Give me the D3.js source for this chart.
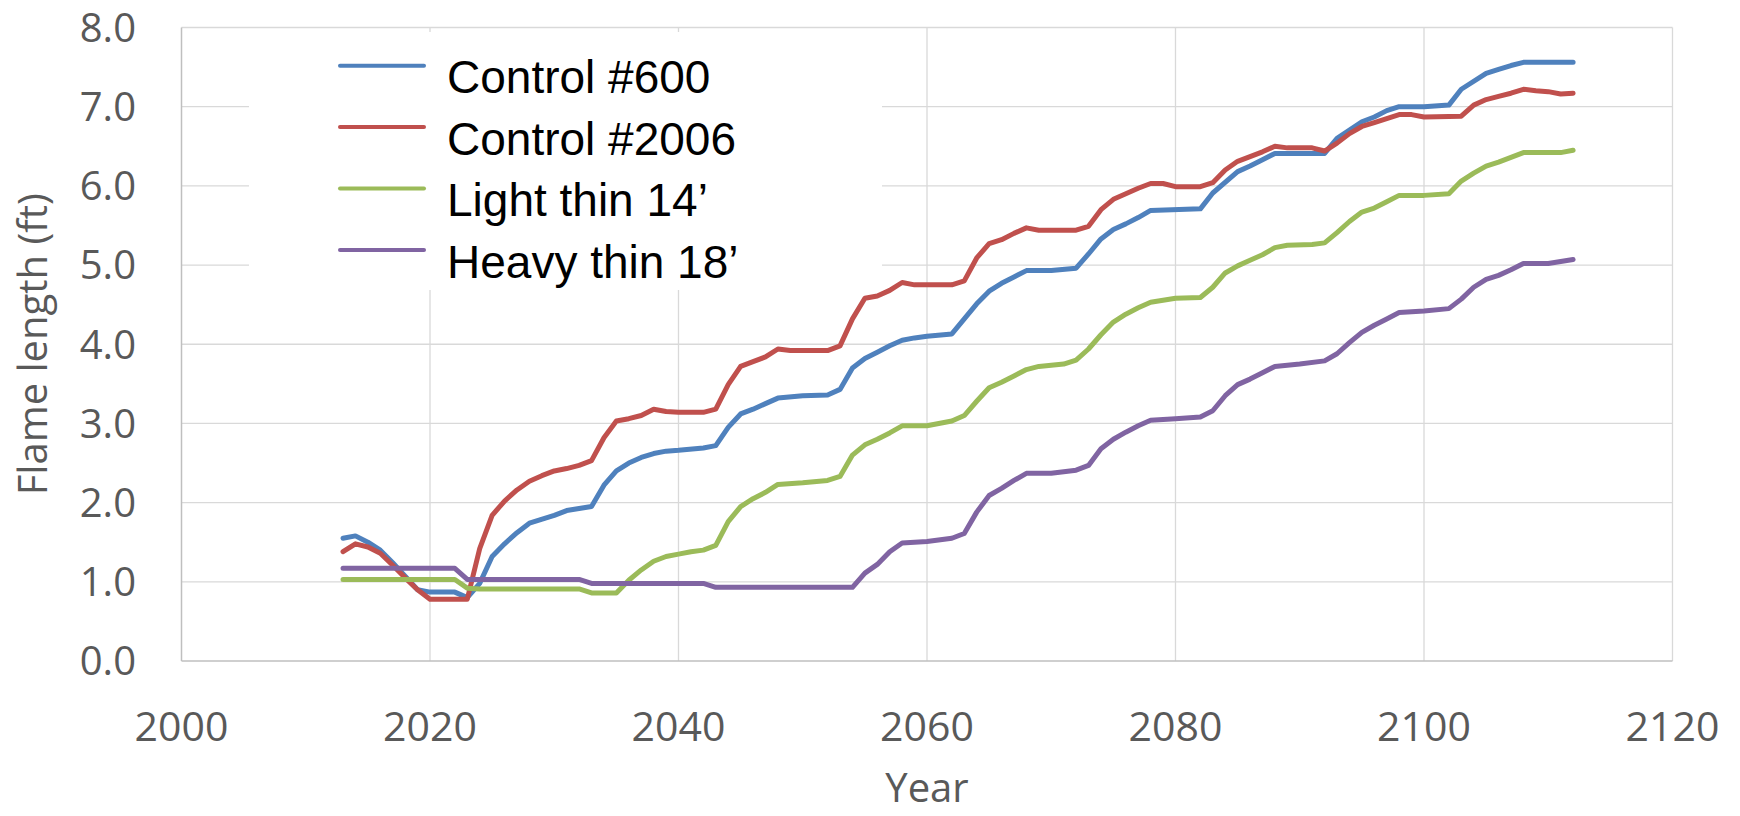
<!DOCTYPE html>
<html lang="en">
<head>
    <meta charset="UTF-8">
    <title>Flame length by year</title>
    <script src="https://d3js.org/d3.v7.min.js"></script>
</head>
<style>
    body { margin: 0; background: white; }
</style>
<body>
    <svg id="chart"></svg>

    <script>
    //Data ([year, flame length ft])
        const control600 = [
            [2013,1.55],[2014,1.58],[2015,1.50],[2016,1.40],[2017,1.24],[2018,1.07],[2019,0.90],[2020,0.87],
            [2022,0.87],[2023,0.80],[2024,0.98],[2025,1.32],[2026,1.48],[2027,1.62],[2028,1.74],[2030,1.84],
            [2031,1.90],[2033,1.95],[2034,2.22],[2035,2.40],[2036,2.50],[2037,2.57],[2038,2.62],[2039,2.65],
            [2040,2.66],[2042,2.69],[2043,2.72],[2044,2.95],[2045,3.12],[2046,3.18],[2047,3.25],[2048,3.32],
            [2050,3.35],[2052,3.36],[2053,3.43],[2054,3.70],[2055,3.82],[2056,3.90],[2057,3.98],[2058,4.05],
            [2059,4.08],[2060,4.10],[2062,4.13],[2063,4.32],[2064,4.51],[2065,4.67],[2066,4.77],[2067,4.85],
            [2068,4.93],[2070,4.93],[2072,4.96],[2073,5.14],[2074,5.33],[2075,5.45],[2076,5.52],[2077,5.60],
            [2078,5.69],[2082,5.71],[2083,5.91],[2085,6.18],[2086,6.25],[2087,6.33],[2088,6.41],[2092,6.41],
            [2093,6.60],[2095,6.81],[2096,6.87],[2097,6.95],[2098,7.00],[2100,7.00],[2102,7.02],[2103,7.22],
            [2105,7.42],[2106,7.47],[2107,7.52],[2108,7.56],[2112,7.56]
        ];
        const control2006 = [
            [2013,1.38],[2014,1.48],[2015,1.44],[2016,1.36],[2017,1.21],[2018,1.05],[2019,0.90],[2020,0.78],
            [2023,0.78],[2024,1.42],[2025,1.84],[2026,2.02],[2027,2.16],[2028,2.27],[2029,2.34],[2030,2.40],
            [2031,2.43],[2032,2.47],[2033,2.53],[2034,2.82],[2035,3.03],[2036,3.06],[2037,3.10],[2038,3.18],
            [2039,3.15],[2040,3.14],[2042,3.14],[2043,3.18],[2044,3.49],[2045,3.72],[2046,3.78],[2047,3.84],
            [2048,3.94],[2049,3.92],[2052,3.92],[2053,3.98],[2054,4.32],[2055,4.58],[2056,4.61],[2057,4.68],
            [2058,4.78],[2059,4.75],[2062,4.75],[2063,4.80],[2064,5.09],[2065,5.27],[2066,5.32],[2067,5.40],
            [2068,5.47],[2069,5.44],[2072,5.44],[2073,5.49],[2074,5.70],[2075,5.83],[2076,5.90],[2077,5.97],
            [2078,6.03],[2079,6.03],[2080,5.99],[2082,5.99],[2083,6.04],[2084,6.20],[2085,6.31],[2086,6.37],
            [2087,6.43],[2088,6.50],[2089,6.48],[2091,6.48],[2092,6.44],[2093,6.54],[2094,6.66],[2095,6.75],
            [2096,6.80],[2097,6.85],[2098,6.90],[2099,6.90],[2100,6.87],[2103,6.88],[2104,7.02],[2105,7.09],
            [2106,7.13],[2107,7.17],[2108,7.22],[2109,7.20],[2110,7.19],[2111,7.16],[2112,7.17]
        ];
        const lightThin = [
            [2013,1.03],[2022,1.03],[2023,0.92],[2024,0.91],[2032,0.91],[2033,0.86],[2035,0.86],[2036,1.02],
            [2037,1.15],[2038,1.26],[2039,1.32],[2040,1.35],[2041,1.38],[2042,1.40],[2043,1.46],[2044,1.76],
            [2045,1.95],[2046,2.05],[2047,2.13],[2048,2.23],[2050,2.25],[2052,2.28],[2053,2.33],[2054,2.60],
            [2055,2.73],[2056,2.80],[2057,2.88],[2058,2.97],[2060,2.97],[2062,3.03],[2063,3.10],[2064,3.28],
            [2065,3.45],[2066,3.52],[2067,3.60],[2068,3.68],[2069,3.72],[2071,3.75],[2072,3.80],[2073,3.94],
            [2074,4.12],[2075,4.28],[2076,4.38],[2077,4.46],[2078,4.53],[2080,4.58],[2082,4.59],[2083,4.72],
            [2084,4.90],[2085,4.99],[2086,5.06],[2087,5.13],[2088,5.22],[2089,5.25],[2091,5.26],[2092,5.28],
            [2093,5.41],[2094,5.55],[2095,5.67],[2096,5.72],[2097,5.80],[2098,5.88],[2100,5.88],[2102,5.90],
            [2103,6.06],[2104,6.16],[2105,6.25],[2106,6.30],[2107,6.36],[2108,6.42],[2111,6.42],[2112,6.45]
        ];
        const heavyThin = [
            [2013,1.17],[2022,1.17],[2023,1.03],[2032,1.03],[2033,0.98],[2042,0.98],[2043,0.93],[2054,0.93],
            [2055,1.11],[2056,1.22],[2057,1.38],[2058,1.49],[2060,1.51],[2062,1.55],[2063,1.61],[2064,1.88],
            [2065,2.09],[2066,2.18],[2067,2.28],[2068,2.37],[2070,2.37],[2072,2.41],[2073,2.47],[2074,2.68],
            [2075,2.80],[2076,2.89],[2077,2.97],[2078,3.04],[2080,3.06],[2082,3.08],[2083,3.16],[2084,3.35],
            [2085,3.49],[2086,3.56],[2087,3.64],[2088,3.72],[2090,3.75],[2092,3.79],[2093,3.88],[2094,4.02],
            [2095,4.15],[2096,4.24],[2097,4.32],[2098,4.40],[2100,4.42],[2102,4.45],[2103,4.57],[2104,4.72],
            [2105,4.82],[2106,4.87],[2107,4.94],[2108,5.02],[2110,5.02],[2112,5.07]
        ];

        const seriesNames = ["Control #600", "Control #2006", "Light thin 14\u2019", "Heavy thin 18\u2019"];
        const seriesData = [control600, control2006, lightThin, heavyThin];
        const seriesColors = ["#4F81BD", "#C0504D", "#9BBB59", "#8064A2"];

        const xTicks = [2000, 2020, 2040, 2060, 2080, 2100, 2120];
        const yTicks = [0, 1, 2, 3, 4, 5, 6, 7, 8];

    //Scene
        const width = 1740;
        const height = 816;
        const plot = {left: 181.5, right: 1672.5, top: 27.5, bottom: 661};

        const svg = d3.select("#chart")
            .attr("width", width)
            .attr("height", height);

        const x = d3.scaleLinear()
            .domain([2000, 2120])
            .range([plot.left, plot.right]);

        const y = d3.scaleLinear()
            .domain([0, 8])
            .range([plot.bottom, plot.top]);

    //Grid
        svg.append("g")
            .selectAll("line")
            .data(yTicks.slice(1))
            .join("line")
            .attr("x1", plot.left).attr("x2", plot.right)
            .attr("y1", d => y(d)).attr("y2", d => y(d))
            .attr("stroke", "#D9D9D9").attr("stroke-width", 1.3);

        svg.append("g")
            .selectAll("line")
            .data(xTicks.slice(1))
            .join("line")
            .attr("x1", d => x(d)).attr("x2", d => x(d))
            .attr("y1", plot.top).attr("y2", plot.bottom)
            .attr("stroke", "#D9D9D9").attr("stroke-width", 1.3);

    //Axes lines
        svg.append("line")
            .attr("x1", plot.left).attr("x2", plot.right)
            .attr("y1", plot.bottom).attr("y2", plot.bottom)
            .attr("stroke", "#BFBFBF").attr("stroke-width", 1.5);
        svg.append("line")
            .attr("x1", plot.left).attr("x2", plot.left)
            .attr("y1", plot.top).attr("y2", plot.bottom)
            .attr("stroke", "#BFBFBF").attr("stroke-width", 1.5);

    //Tick labels
        svg.append("g")
            .selectAll("text")
            .data(yTicks)
            .join("text")
            .attr("x", 136)
            .attr("y", d => y(d))
            .attr("dy", "0.36em")
            .attr("text-anchor", "end")
            .attr("font-family", "'Open Sans', sans-serif")
            .attr("font-size", 40)
            .attr("fill", "#595959")
            .text(d => d.toFixed(1));

        svg.append("g")
            .selectAll("text")
            .data(xTicks)
            .join("text")
            .attr("x", d => x(d))
            .attr("y", 741)
            .attr("text-anchor", "middle")
            .attr("font-family", "'Open Sans', sans-serif")
            .attr("font-size", 41)
            .attr("fill", "#595959")
            .text(d => d);

    //Axis titles
        svg.append("text")
            .attr("x", x(2060))
            .attr("y", 802)
            .attr("text-anchor", "middle")
            .attr("font-family", "'Open Sans', sans-serif")
            .attr("font-size", 40)
            .attr("fill", "#595959")
            .text("Year");

        svg.append("text")
            .attr("transform", `translate(47, ${(plot.top + plot.bottom) / 2}) rotate(-90)`)
            .attr("text-anchor", "middle")
            .attr("font-family", "'Open Sans', sans-serif")
            .attr("font-size", 40)
            .attr("fill", "#595959")
            .text("Flame length (ft)");

    //Series
        const line = d3.line()
            .x(d => x(d[0]))
            .y(d => y(d[1]));

        svg.append("g")
            .selectAll("path")
            .data(seriesData)
            .join("path")
            .attr("d", line)
            .attr("fill", "none")
            .attr("stroke", (d, i) => seriesColors[i])
            .attr("stroke-width", 5)
            .attr("stroke-linejoin", "round")
            .attr("stroke-linecap", "round");

    //Legend
        svg.append("rect")
            .attr("x", 249).attr("y", 32)
            .attr("width", 633).attr("height", 258)
            .attr("fill", "white");

        const legend = svg.append("g")
            .selectAll("g")
            .data(seriesNames)
            .join("g")
            .attr("transform", (d, i) => `translate(0, ${65.7 + i * 61.4})`);

        legend.append("line")
            .attr("x1", 340).attr("x2", 424)
            .attr("stroke", (d, i) => seriesColors[i])
            .attr("stroke-width", 4)
            .attr("stroke-linecap", "round");

        legend.append("text")
            .attr("x", 447)
            .attr("y", 27.6)
            .attr("font-family", "'Liberation Sans', Arial, sans-serif")
            .attr("font-size", 46)
            .attr("fill", "black")
            .text(d => d);
    </script>
</body>
</html>
